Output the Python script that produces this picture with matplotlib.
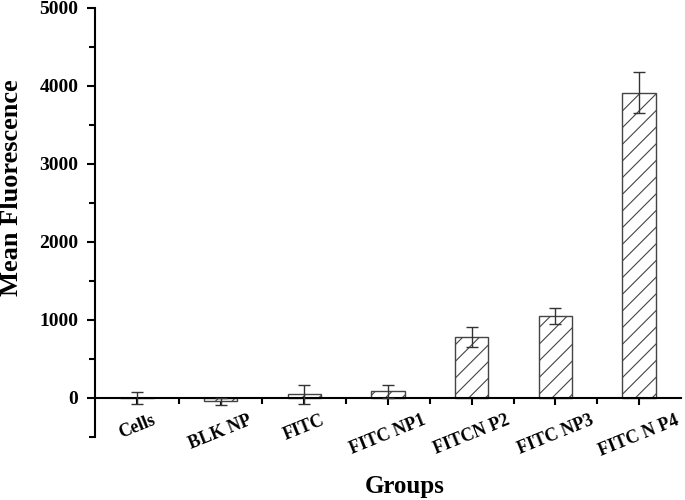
import matplotlib
matplotlib.use("Agg")
import matplotlib.pyplot as plt
import numpy as np

categories = ["Cells", "BLK NP", "FITC", "FITC NP1", "FITCN P2", "FITC NP3", "FITC N P4"]
values = [-5, -40, 45, 85, 780, 1050, 3915]
errors = [78, 45, 125, 85, 128, 107, 260]

plt.rcParams['font.family'] = ['Liberation Serif', 'DejaVu Serif']
plt.rcParams['hatch.color'] = '#555555'
plt.rcParams['hatch.linewidth'] = 0.8

fig = plt.figure(figsize=(6.85, 5.0), dpi=100)
ax = fig.add_axes([95/685, 1-437/500, (681-95)/685, (437-8)/500])

x = np.arange(1, len(categories) + 1)
ax.bar(x, values, width=0.4, facecolor='white', edgecolor='#444444',
       linewidth=1.0, hatch='//', zorder=2)
ax.errorbar(x, values, yerr=errors, fmt='none', ecolor='#333333',
            elinewidth=1.0, capsize=4, capthick=1.0, zorder=3)

ax.set_xlim(0.5, 7.5)
ax.set_ylim(-500, 5000)
ax.spines['top'].set_visible(False)
ax.spines['right'].set_visible(False)
ax.spines['bottom'].set_position(('data', 0))
ax.spines['left'].set_linewidth(1.5)
ax.spines['bottom'].set_linewidth(1.5)

ax.set_yticks(np.arange(0, 5001, 1000))
ax.set_yticks(np.arange(-500, 5001, 500), minor=True)
ax.set_xticks(x)
ax.set_xticks(np.arange(1.5, 7.5, 1), minor=True)
ax.set_xticklabels(categories, rotation=22, ha='center', fontsize=13, fontweight='bold')
for lab in ax.get_yticklabels():
    lab.set_fontweight('bold')
    lab.set_fontsize(14)
ax.tick_params(axis='both', which='major', direction='out', length=6, width=1.5)
ax.tick_params(axis='both', which='minor', direction='out', length=4, width=1.5)
ax.tick_params(axis='x', which='major', length=5, pad=5)
ax.tick_params(axis='y', pad=6)

fig.text(12/685, 1-188/500, "Mean Fluorescence", rotation=90, ha='center', va='center',
         fontsize=19, fontweight='bold')
fig.text(405/685, 1-487/500, "Groups", ha='center', va='center',
         fontsize=18, fontweight='bold')

fig.savefig("out.png", dpi=100)
